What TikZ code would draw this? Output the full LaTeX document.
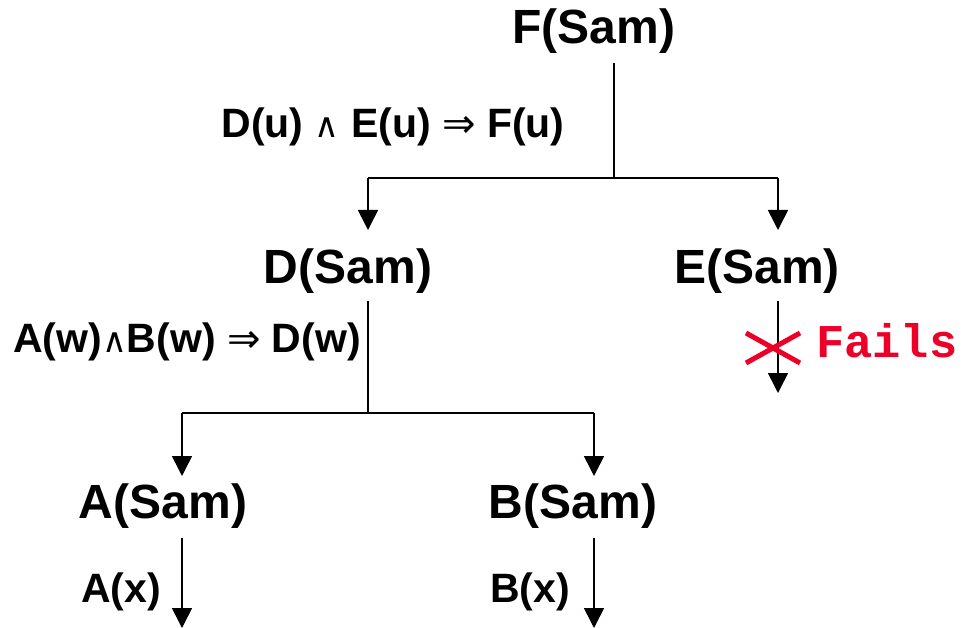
\documentclass[tikz,border=0pt]{standalone}
\usepackage{fontspec}
\setmainfont{Liberation Sans}
\newfontfamily\monofont{Liberation Mono}
\newfontfamily\symfont{DejaVu Sans}
\usetikzlibrary{arrows.meta}
\definecolor{failred}{RGB}{236,0,40}
\newcommand{\andsym}{{\symfont\mdseries\fontsize{34}{36}\selectfont ∧}}
\newcommand{\impsym}{{\symfont\mdseries\fontsize{40}{42}\selectfont ⇒}}
\begin{document}
\begin{tikzpicture}[x=1pt,y=-1pt,
  term/.style={font=\fontsize{48}{52}\selectfont\bfseries, inner sep=0pt},
  rulelab/.style={font=\fontsize{41}{44}\selectfont\bfseries, inner sep=0pt},
  leaflab/.style={font=\fontsize{41}{44}\selectfont\bfseries, inner sep=0pt},
  conn/.style={line width=1.6pt},
  arr/.style={conn, -{Triangle[width=20pt,length=20pt]}},
  cross/.style={line width=5pt, failred}]
\useasboundingbox (0,0) rectangle (963,628);
% nodes
\node[term] (F) at (594,31) {F(Sam)};
\node[term] (D) at (348,271) {D(Sam)};
\node[term] (E) at (757,271) {E(Sam)};
\node[term] (A) at (163,506) {A(Sam)};
\node[term] (B) at (573,506) {B(Sam)};
\node[rulelab] (r1) at (393,127) {D(u) \andsym{} E(u) \impsym{} F(u)};
\node[rulelab] (r2) at (187,342) {A(w)\andsym B(w) \impsym{} D(w)};
\node[leaflab] (ax) at (121,592) {A(x)};
\node[leaflab] (bx) at (530,592) {B(x)};
\node[font=\fontsize{47}{50}\selectfont\monofont\bfseries, text=failred, anchor=west, inner sep=0pt] (fails) at (816,341) {Fails};
% coordinates
\coordinate (ft) at (614,63);
\coordinate (fj) at (614,178);
\coordinate (dl) at (368,178);
\coordinate (el) at (778,178);
\coordinate (dt) at (368,230);
\coordinate (et) at (778,230);
\coordinate (ds) at (368,301);
\coordinate (dj) at (368,413);
\coordinate (al) at (182,413);
\coordinate (bl) at (594,413);
\coordinate (at) at (182,476);
\coordinate (bt) at (594,476);
\coordinate (es) at (778,301);
\coordinate (ee) at (778,393);
\coordinate (as) at (182,538);
\coordinate (ae) at (182,628);
\coordinate (bs) at (594,538);
\coordinate (be) at (594,628);
\coordinate (x1) at (746,333);
\coordinate (x2) at (800,363);
\coordinate (x3) at (746,363);
\coordinate (x4) at (800,333);
% connectors
\draw[conn] (ft) -- (fj);
\draw[conn] (dl) -- (el);
\draw[arr] (dl) -- (dt);
\draw[arr] (el) -- (et);
\draw[conn] (ds) -- (dj);
\draw[conn] (al) -- (bl);
\draw[arr] (al) -- (at);
\draw[arr] (bl) -- (bt);
\draw[arr] (es) -- (ee);
\draw[arr] (as) -- (ae);
\draw[arr] (bs) -- (be);
\draw[cross] (x1) -- (x2);
\draw[cross] (x3) -- (x4);
\end{tikzpicture}
\end{document}
